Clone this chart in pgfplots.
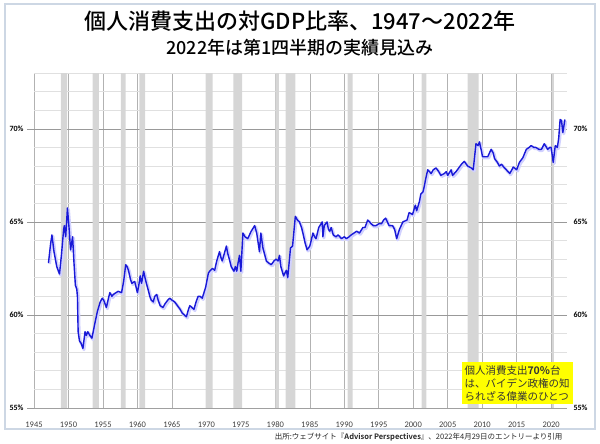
\documentclass[border=0pt]{standalone}
\usepackage{fontspec}
\setmainfont{Noto Sans CJK JP}[BoldFont={Noto Sans CJK JP Medium}]
\newfontfamily\heavy{Noto Sans CJK JP Bold}
\newfontfamily\carl{Carlito}
\usepackage{pgfplots}
\pgfplotsset{compat=1.18}
\definecolor{pceblue}{RGB}{25,25,215}
\definecolor{recgray}{RGB}{214,214,214}
\definecolor{framecol}{RGB}{205,215,228}
\definecolor{boxyellow}{RGB}{255,255,0}

\pgfplotstableread{
year pce
1947.1 62.8
1947.4 63.8
1947.6 64.3
1947.9 63.4
1948.3 62.6
1948.7 62.2
1949.0 63.3
1949.3 64.6
1949.4 64.8
1949.6 64.2
1949.85 65.75
1950.1 64.6
1950.3 63.5
1950.6 64.2
1950.8 62.8
1951.0 61.6
1951.2 61.4
1951.3 61.0
1951.4 59.1
1951.6 58.6
1951.8 58.5
1952.0 58.3
1952.1 58.2
1952.4 59.1
1952.6 58.9
1952.8 59.1
1953.1 58.9
1953.4 58.75
1953.8 59.5
1954.2 60.2
1954.6 60.7
1954.9 60.9
1955.1 60.8
1955.5 60.4
1955.8 60.9
1956.0 61.2
1956.3 61.0
1956.5 61.1
1956.9 61.2
1957.2 61.27
1957.7 61.2
1958.0 61.8
1958.3 62.7
1958.5 62.6
1958.7 62.4
1959.0 61.9
1959.2 61.7
1959.6 61.8
1959.8 61.5
1960.0 61.2
1960.2 61.6
1960.4 62.1
1960.6 61.7
1960.9 62.35
1961.1 62.0
1961.3 61.7
1961.6 61.3
1961.8 61.0
1962.0 60.8
1962.3 60.7
1962.5 61.0
1962.8 61.1
1963.0 60.8
1963.3 60.5
1963.7 60.4
1964.0 60.6
1964.4 60.8
1964.7 60.9
1965.0 60.8
1965.4 60.7
1965.8 60.5
1966.2 60.3
1966.5 60.1
1966.8 60.0
1967.1 59.9
1967.4 60.3
1967.6 60.5
1967.9 60.4
1968.2 60.3
1968.5 60.7
1968.8 61.0
1969.1 61.0
1969.4 60.9
1969.9 61.5
1970.3 62.26
1970.6 62.4
1970.9 62.5
1971.2 62.4
1971.5 62.9
1971.9 63.4
1972.1 63.1
1972.3 62.9
1972.6 63.3
1972.9 63.7
1973.1 63.3
1973.4 62.9
1973.6 62.6
1974.0 62.35
1974.2 62.6
1974.4 62.35
1974.6 62.8
1974.8 63.2
1975.0 62.35
1975.3 64.4
1975.6 64.2
1976.0 64.1
1976.5 64.5
1977.0 64.8
1977.3 64.4
1977.5 63.9
1977.7 63.4
1977.9 64.4
1978.2 63.6
1978.7 62.9
1979.0 62.8
1979.4 62.7
1979.8 62.9
1980.1 63.0
1980.4 62.9
1980.6 63.2
1980.8 62.6
1981.2 62.1
1981.6 62.4
1981.8 62.0
1982.2 63.6
1982.5 63.7
1982.9 65.3
1983.2 65.1
1983.5 65.0
1983.8 64.7
1984.0 64.4
1984.3 63.9
1984.6 63.5
1985.0 63.7
1985.2 64.0
1985.45 64.4
1985.7 64.2
1985.9 64.1
1986.3 64.7
1986.8 65.0
1986.9 64.2
1987.1 64.8
1987.5 65.0
1987.7 64.6
1987.9 64.5
1988.1 64.7
1988.4 64.3
1988.8 64.2
1989.1 64.3
1989.6 64.1
1990.0 64.2
1990.3 64.1
1990.7 64.2
1991.0 64.3
1991.4 64.4
1991.8 64.5
1992.2 64.4
1992.7 64.7
1993.0 64.7
1993.4 65.1
1993.9 64.9
1994.2 64.8
1994.6 64.8
1995.0 64.9
1995.4 64.9
1995.7 65.1
1996.0 65.2
1996.5 64.8
1997.0 64.8
1997.3 64.6
1997.6 64.1
1998.0 64.6
1998.5 65.0
1999.1 65.1
1999.4 65.5
1999.9 65.4
2000.3 65.9
2000.5 65.6
2000.9 66.1
2001.1 66.5
2001.4 66.6
2001.6 66.9
2001.8 67.3
2002.1 67.8
2002.6 67.6
2002.9 67.8
2003.3 67.9
2003.7 67.7
2004.0 67.5
2004.5 67.6
2004.8 67.7
2005.0 67.5
2005.5 67.8
2005.7 67.5
2006.2 67.7
2006.6 67.9
2007.0 68.1
2007.4 68.25
2007.9 68.0
2008.4 67.9
2008.7 67.8
2009.1 69.2
2009.4 69.1
2009.6 69.3
2009.9 68.8
2010.05 68.5
2010.5 68.5
2010.8 68.5
2011.3 68.9
2011.6 68.7
2011.8 68.4
2012.2 68.2
2012.5 68.0
2012.8 68.1
2013.0 68.0
2013.5 67.8
2014.0 67.6
2014.3 67.8
2014.5 67.95
2015.0 67.8
2015.4 68.2
2015.9 68.45
2016.4 68.9
2016.8 69.0
2017.1 69.1
2017.5 69.0
2017.8 69.0
2018.2 68.9
2018.6 68.9
2019.0 69.2
2019.5 68.9
2019.8 69.0
2020.0 69.0
2020.3 68.2
2020.6 69.1
2020.9 69.0
2021.1 69.5
2021.3 70.5
2021.5 70.45
2021.7 69.8
2022.0 70.5
}\pcedata

% recession shading: 73 while in recession, 55 otherwise (const plot)
\pgfplotstableread{
year r
1945.0 55
1948.9 73
1949.8 55
1953.5 73
1954.4 55
1957.6 73
1958.3 55
1960.3 73
1961.1 55
1969.9 73
1970.9 55
1973.9 73
1975.2 55
1980.0 73
1980.5 55
1981.5 73
1982.9 55
1990.5 73
1991.2 55
2001.2 73
2001.9 55
2007.9 73
2009.5 55
2020.1 73
2020.4 55
2022.3 55
}\recdata

\begin{document}
\begin{tikzpicture}[x=1pt,y=1pt]
\path[use as bounding box] (0,0) rectangle (600,-444);
\draw[framecol, line width=1.2pt] (5,-4) rectangle (595,-429);
\node[font=\bfseries\fontsize{22}{24}\selectfont] at (300,-21) {個人消費支出の対GDP比率、1947～2022年};
\node[font=\bfseries\fontsize{18}{20}\selectfont] at (300,-48) {2022年は第1四半期の実績見込み};

\begin{axis}[
    at={(34pt,-408pt)}, anchor=south west,
    scale only axis, width=533pt, height=335pt,
    xmin=1945, xmax=2022.3, ymin=55, ymax=73,
    /pgf/number format/assume math mode=true,
    axis line style={draw=none},
    xtick={1945,1950,...,2020},
    xticklabel style={font=\carl\fontsize{8.5}{9}\selectfont, text=black!75, yshift=-3pt},
    x tick label style={/pgf/number format/1000 sep={}},
    xtick style={draw=none},
    xmajorgrids, x grid style={black!30, line width=0.6pt},
    ytick={55,60,65,70},
    minor ytick={56,57,58,59,61,62,63,64,66,67,68,69,71,72,73},
    ymajorgrids, yminorgrids,
    y grid style={black!40, line width=0.6pt},
    minor y grid style={black!12, line width=0.6pt},
    yticklabel={\pgfmathprintnumber{\tick}\%},
    yticklabel style={font=\carl\bfseries\fontsize{8}{9}\selectfont},
    ytick style={black!40, line width=0.6pt},
    major tick length=7pt, tick align=outside,
    ytick pos=left, minor tick length=0pt,
    clip=true,
]
\addplot[const plot, fill=recgray, draw=none] table[x=year, y=r] {\recdata} \closedcycle;
\addplot[blue!18, line width=3pt, line join=round, shift={(1pt,-1.2pt)}] table[x=year, y=pce] {\pcedata};
\addplot[pceblue, line width=1.4pt, line join=round] table[x=year, y=pce] {\pcedata};
\end{axis}

\begin{axis}[
    at={(34pt,-408pt)}, anchor=south west,
    scale only axis, width=533pt, height=335pt,
    xmin=1945, xmax=2022.3, ymin=55, ymax=73,
    /pgf/number format/assume math mode=true,
    hide x axis,
    axis y line*=right,
    axis line style={draw=none},
    ytick={55,60,65,70},
    ytick style={draw=none},
    yticklabel={\pgfmathprintnumber{\tick}\%},
    yticklabel style={font=\carl\bfseries\fontsize{8}{9}\selectfont, xshift=3pt},
]
\end{axis}

\node[fill=boxyellow, text=black!80, align=left, inner sep=3pt,
      font=\fontsize{10.5}{13}\selectfont, anchor=center] at (517,-383)
  {個人消費支出{\heavy 70\%}台\\は、バイデン政権の知\\られざる偉業のひとつ};

\node[anchor=east, font=\fontsize{7.5}{8}\selectfont, text=black!85] at (566,-437)
  {出所:ウェブサイト『{\heavy Advisor Perspectives}』、2022年4月29日のエントリーより引用};
\end{tikzpicture}
\end{document}
